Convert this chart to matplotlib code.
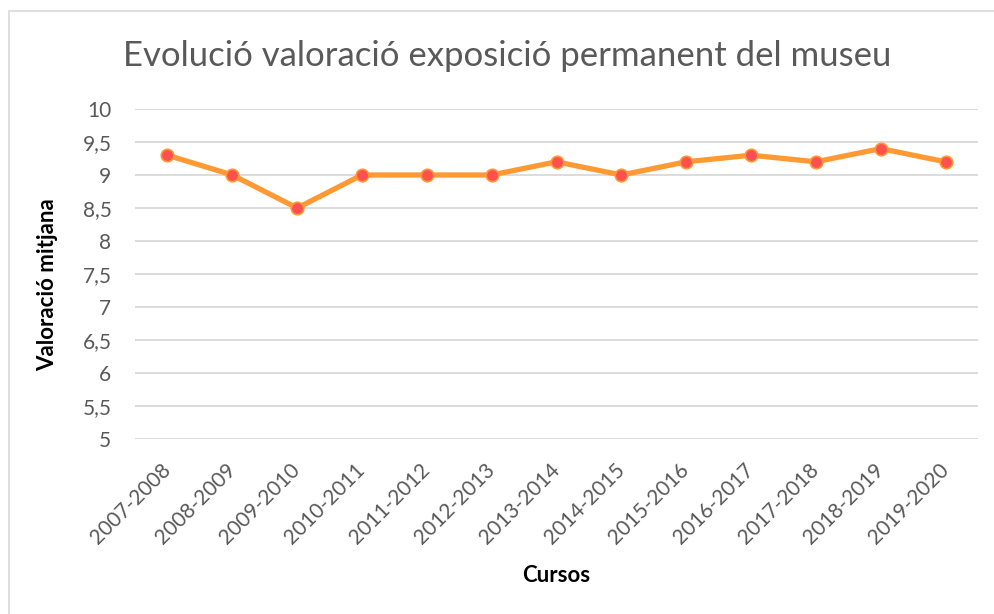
import matplotlib
matplotlib.use("Agg")
import matplotlib.pyplot as plt
from matplotlib.patches import Rectangle

cursos = ["2007-2008", "2008-2009", "2009-2010", "2010-2011", "2011-2012", "2012-2013",
          "2013-2014", "2014-2015", "2015-2016", "2016-2017", "2017-2018", "2018-2019", "2019-2020"]
valoracio = [9.3, 9.0, 8.5, 9.0, 9.0, 9.0, 9.2, 9.0, 9.2, 9.3, 9.2, 9.4, 9.2]
yticks = [5, 5.5, 6, 6.5, 7, 7.5, 8, 8.5, 9, 9.5, 10]
ytick_labels = ["5", "5,5", "6", "6,5", "7", "7,5", "8", "8,5", "9", "9,5", "10"]

plt.rcParams['font.family'] = ['Lato', 'DejaVu Sans']

W, H = 994, 614
fig = plt.figure(figsize=(W / 100, H / 100), dpi=100)
fig.patch.set_facecolor("white")

# outer chart border
fig.patches.append(Rectangle((9 / W, -0.1), 1.2, 1 - 11 / H + 0.1, transform=fig.transFigure,
                             fill=False, edgecolor="#D9D9D9", linewidth=1.2))

left, right, top, bottom = 135, 978, 109, 439
ax = fig.add_axes([left / W, 1 - bottom / H, (right - left) / W, (bottom - top) / H])
ax.set_facecolor("white")

x = list(range(len(cursos)))
ax.plot(x, valoracio, color="#FF9933", linewidth=3.8, marker="o", markersize=9,
        markerfacecolor="#FF5050", markeredgecolor="#FF9933", markeredgewidth=1.2,
        solid_joinstyle="round", zorder=3)

ax.set_xlim(-0.5, len(cursos) - 0.5)
ax.set_ylim(5, 10)
ax.set_yticks(yticks)
ax.set_yticklabels(ytick_labels)
ax.set_xticks(x)
ax.set_xticklabels(cursos, rotation=45, ha="right", va="center", rotation_mode="anchor")
ax.grid(axis="y", color="#D9D9D9", linewidth=1.3)
ax.set_axisbelow(True)
for s in ax.spines.values():
    s.set_visible(False)
ax.tick_params(axis="both", length=0, labelsize=15, colors="#595959")
ax.tick_params(axis="y", pad=17)
ax.tick_params(axis="x", pad=20)

fig.text(48 / W, 1 - 285 / H, "Valoració mitjana", fontsize=16, fontweight="bold", color="black",
         ha="center", va="center", rotation=90)
fig.text(556 / W, 1 - 575 / H, "Cursos", fontsize=16, fontweight="bold", color="black",
         ha="center", va="center")
fig.text(507 / W, 1 - 56 / H, "Evolució valoració exposició permanent del museu",
         fontsize=25, color="#595959", ha="center", va="center")

fig.savefig("out.png", dpi=100, facecolor="white")
